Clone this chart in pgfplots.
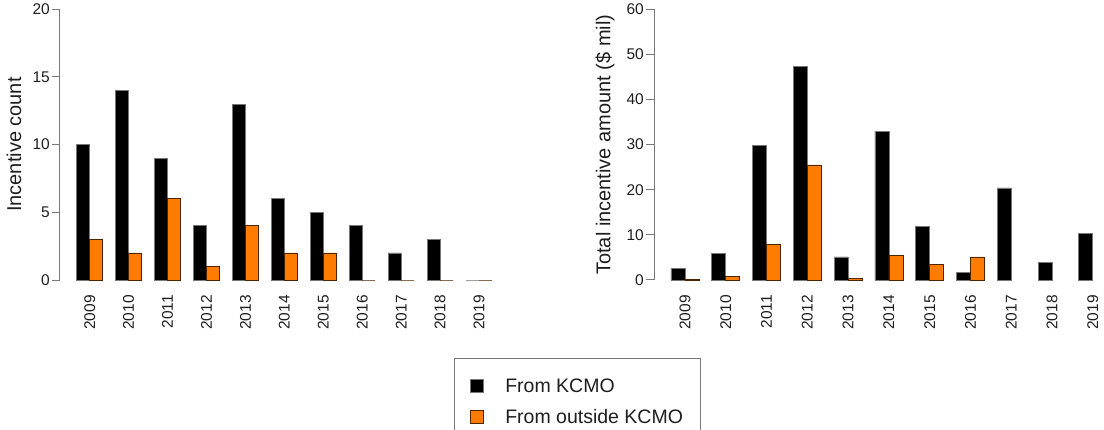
\documentclass[border=0pt]{standalone}
\usepackage{fontspec}
\setmainfont{Liberation Sans}
\usepackage{pgfplots}
\pgfplotsset{compat=1.18}
\definecolor{kor}{RGB}{255,124,0}
\definecolor{kaxis}{RGB}{120,120,120}
\definecolor{ktext}{RGB}{30,30,30}
\pgfplotsset{
  kbase/.style={
    scale only axis,
    height=270.7pt,
    ymin=0,
    axis y line*=left,
    axis x line*=bottom,
    x axis line style={draw=none},
    y axis line style={draw=kaxis, line width=1pt},
    ytick style={draw=kaxis, line width=1pt},
    xtick style={draw=none},
    tick align=outside,
    major tick length=8pt,
    xtick={0,...,10},
    xticklabels={2009,2010,2011,2012,2013,2014,2015,2016,2017,2018,2019},
    xticklabel style={yshift=-7pt, rotate=90, anchor=east, inner sep=0pt, font=\fontsize{15.5}{18}\selectfont, text=ktext},
    yticklabel style={inner sep=0pt, xshift=-2pt, anchor=east, font=\fontsize{15.5}{18}\selectfont, text=ktext},
    /pgf/number format/assume math mode=true,
    ylabel style={anchor=center, font=\fontsize{20}{24}\selectfont, text=ktext},
    ybar,
    clip=false,
  },
  kblack/.style={fill=black, draw=kaxis, line width=0.8pt, bar width=13pt, bar shift=-6.5pt},
  korange/.style={fill=kor, draw=black!70!kor, line width=0.8pt, bar width=13pt, bar shift=6.5pt},
}
\begin{document}
\begin{tikzpicture}
\useasboundingbox (0,0) rectangle (1104pt,429pt);
\begin{axis}[kbase,
  at={(60pt,149pt)}, anchor=south west,
  width=442.4pt,
  xmin=-0.763, xmax=10.6,
  ymax=20, ytick={0,5,10,15,20},
  ylabel={Incentive count},
  every axis y label/.append style={at={(axis description cs:-0.104,0.5)}},
  legend style={at={(axis description cs:0.8906,-0.288)}, anchor=north west,
    draw=kaxis, line width=1pt, inner xsep=15pt, inner ysep=18pt,
    font=\fontsize{19.5}{24}\selectfont, text=ktext, row sep=12pt, column sep=20pt,
    cells={anchor=west}},
  legend image code/.code={\draw[#1, line width=0.8pt, bar width=0pt, bar shift=0pt] (0pt,-6.5pt) rectangle (13pt,6.5pt);},
]
\addplot[kblack] coordinates {(0,10) (1,14) (2,9) (3,4) (4,13) (5,6) (6,5) (7,4) (8,2) (9,3) (10,0)};
\addplot[korange] coordinates {(0,3) (1,2) (2,6) (3,1) (4,4) (5,2) (6,2) (7,0) (8,0) (9,0) (10,0)};
\legend{From KCMO, From outside KCMO}
\end{axis}
\begin{axis}[kbase,
  at={(654pt,149pt)}, anchor=south west,
  width=449pt,
  xmin=-0.76, xmax=10.25,
  ymax=60, ytick={0,10,20,30,40,50,60},
  ylabel={Total incentive amount (\$ mil)},
  every axis y label/.append style={at={(axis description cs:-0.109,0.5)}},
  kblack/.append style={bar width=14pt, bar shift=-7pt},
  korange/.append style={bar width=14pt, bar shift=7pt},
]
\addplot[kblack] coordinates {(0,2.5) (1,5.8) (2,29.8) (3,47.4) (4,5.1) (5,33.0) (6,11.8) (7,1.7) (8,20.4) (9,3.9) (10,10.4)};
\addplot[korange] coordinates {(0,0.2) (1,0.7) (2,7.8) (3,25.5) (4,0.3) (5,5.5) (6,3.5) (7,5.1)};
\end{axis}
\end{tikzpicture}
\end{document}
